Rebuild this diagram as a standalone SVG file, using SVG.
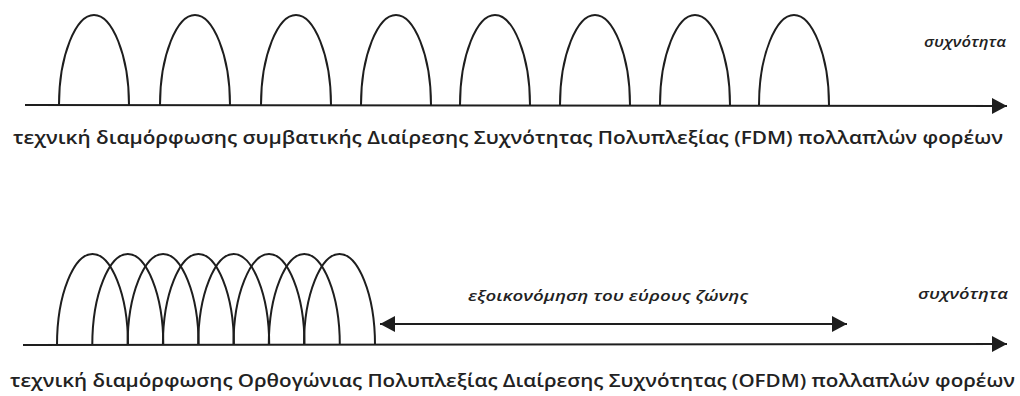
<svg xmlns="http://www.w3.org/2000/svg" xmlns:xlink="http://www.w3.org/1999/xlink" width="1020" height="396" viewBox="0 0 1020 396">
<style>
.ln{fill:none;stroke:#1e1e1e;stroke-width:2;stroke-linecap:butt}
.arch{fill:none;stroke:#1e1e1e;stroke-width:2}
.cap{font-family:"Open Sans","Noto Sans",sans-serif;font-size:18px;fill:#222222;font-weight:600}
.lbl{font-family:"Open Sans","Noto Sans",sans-serif;font-size:14px;font-style:italic;fill:#222222;font-weight:600}
</style>
<defs>
<path id="a1" d="M0,90 C0,40 17,0 35,0 C53,0 70,40 70,90"/>
<path id="a2" d="M0,91 C0,40 17,0 35.5,0 C54,0 71,40 71,91"/>
<marker id="ah" markerWidth="16" markerHeight="16" refX="15" refY="8" orient="auto" markerUnits="userSpaceOnUse">
<path d="M0,0 L15,8 L0,16 z" fill="#1e1e1e"/>
</marker>
<marker id="ahs" markerWidth="16" markerHeight="16" refX="0" refY="8" orient="auto" markerUnits="userSpaceOnUse">
<path d="M15,0 L0,8 L15,16 z" fill="#1e1e1e"/>
</marker>
</defs>
<rect width="1020" height="396" fill="#ffffff"/>
<g id="fdm">
<g id="fdm-carriers" class="arch">
<use xlink:href="#a1" x="59" y="15"/>
<use xlink:href="#a1" x="160" y="15"/>
<use xlink:href="#a1" x="261" y="15"/>
<use xlink:href="#a1" x="361" y="15"/>
<use xlink:href="#a1" x="460" y="15"/>
<use xlink:href="#a1" x="560" y="15"/>
<use xlink:href="#a1" x="660" y="15"/>
<use xlink:href="#a1" x="759" y="15"/>
</g>
<text class="lbl" x="1006" y="47" text-anchor="end" textLength="82" lengthAdjust="spacingAndGlyphs">συχνότητα</text>
<text class="cap" x="13" y="144" textLength="990" lengthAdjust="spacingAndGlyphs">τεχνική διαμόρφωσης συμβατικής Διαίρεσης Συχνότητας Πολυπλεξίας  (FDM) πολλαπλών φορέων</text>
</g>
<g id="ofdm">
<g id="ofdm-carriers" class="arch">
<use xlink:href="#a2" x="57" y="254"/>
<use xlink:href="#a2" x="92.3" y="254"/>
<use xlink:href="#a2" x="127.6" y="254"/>
<use xlink:href="#a2" x="162.9" y="254"/>
<use xlink:href="#a2" x="198.2" y="254"/>
<use xlink:href="#a2" x="233.5" y="254"/>
<use xlink:href="#a2" x="268.8" y="254"/>
<use xlink:href="#a2" x="304" y="254"/>
</g>
<text class="lbl" x="608" y="301" text-anchor="middle" textLength="280" lengthAdjust="spacingAndGlyphs">εξοικονόμηση του εύρους ζώνης</text>
<text class="lbl" x="1008" y="299" text-anchor="end" textLength="90" lengthAdjust="spacingAndGlyphs">συχνότητα</text>
<text class="cap" x="10" y="387" textLength="1005" lengthAdjust="spacingAndGlyphs">τεχνική διαμόρφωσης Ορθογώνιας Πολυπλεξίας Διαίρεσης Συχνότητας (OFDM) πολλαπλών φορέων</text>
</g>
<g id="connectors" class="ln">
<line x1="25" y1="105" x2="1007" y2="106" marker-end="url(#ah)"/>
<line x1="23" y1="345" x2="1007" y2="344" marker-end="url(#ah)"/>
<line x1="380" y1="324" x2="847" y2="324" marker-start="url(#ahs)" marker-end="url(#ah)"/>
</g>
</svg>
